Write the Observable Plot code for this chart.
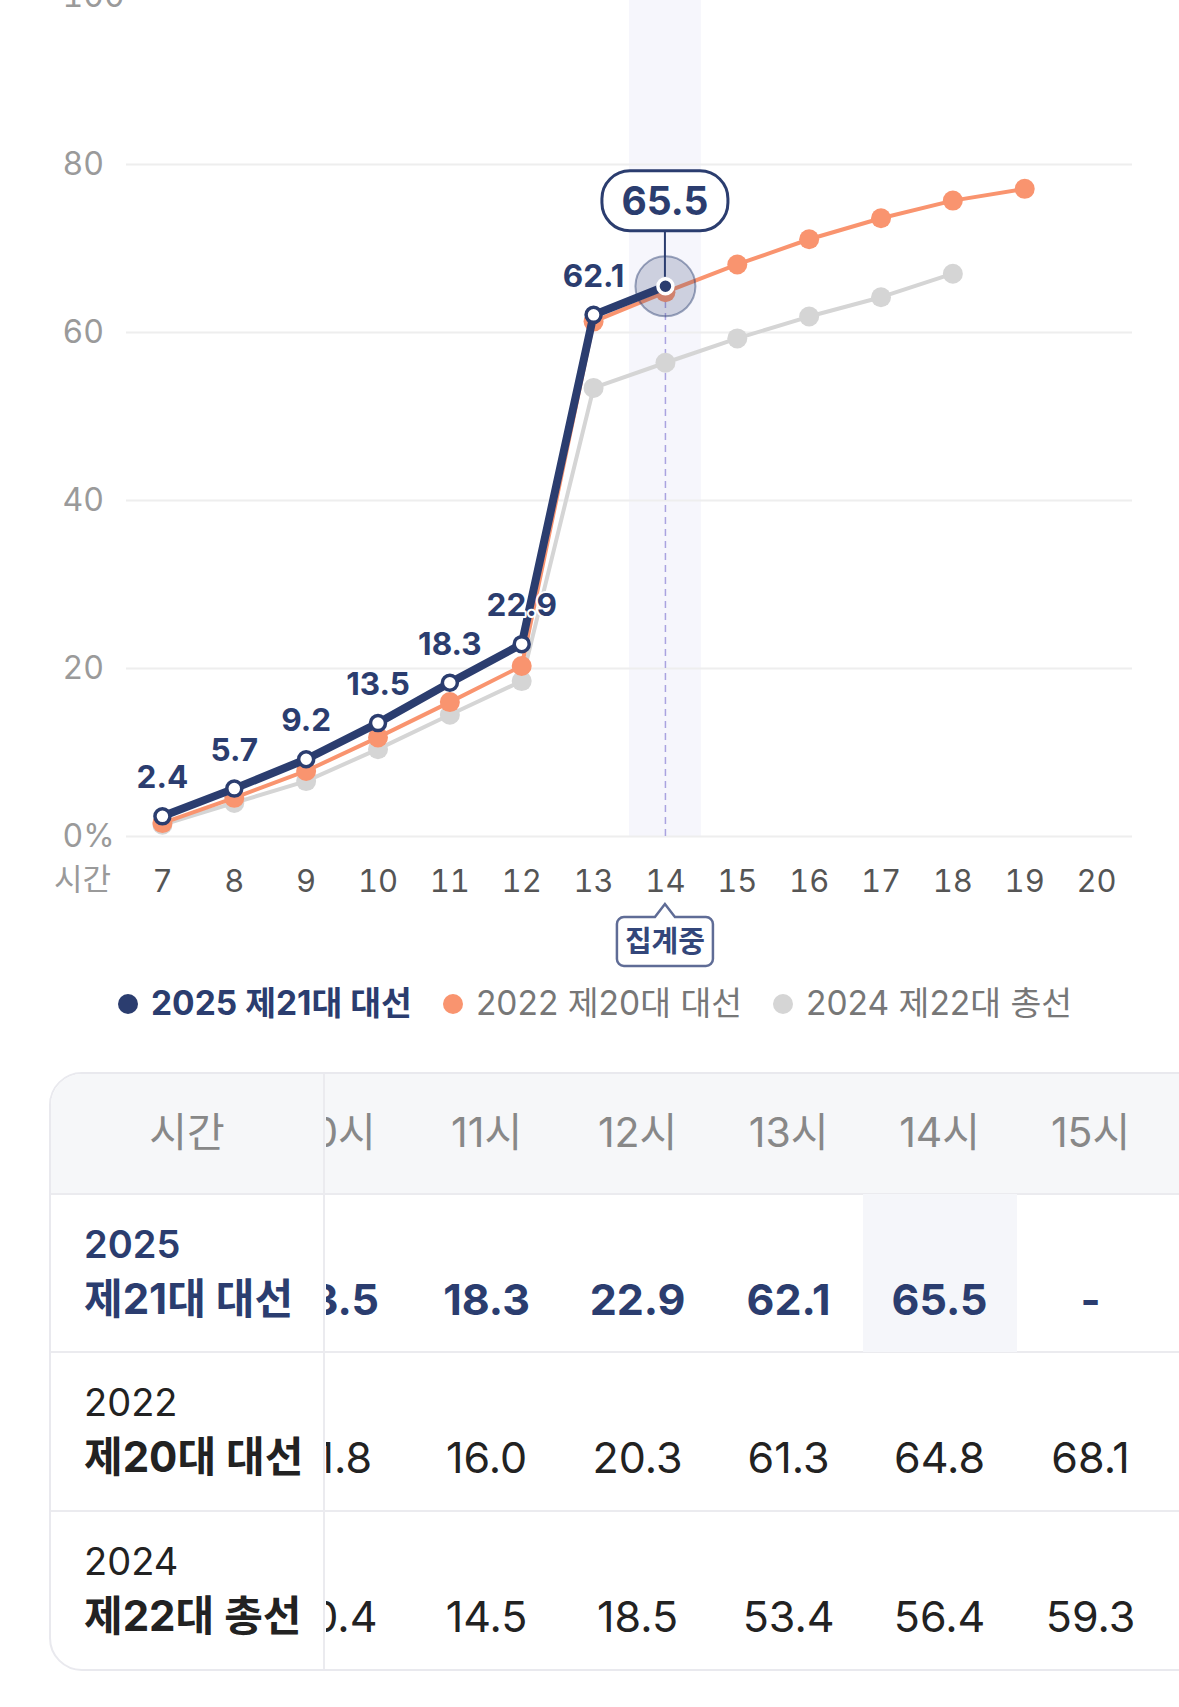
<!DOCTYPE html>
<html><head><meta charset="utf-8">
<script src="https://cdn.jsdelivr.net/npm/d3@7"></script>
<script src="https://cdn.jsdelivr.net/npm/@observablehq/plot@0.6"></script>
<style>
html,body{margin:0;padding:0;background:#fff;}
body{width:1179px;height:1707px;overflow:hidden;position:relative;font-family:Inter,"Noto Sans CJK KR",sans-serif;}
#chart{position:absolute;left:0;top:-40px;}
#legend{position:absolute;left:118px;top:975px;height:58px;display:flex;align-items:center;white-space:nowrap;}
.li{display:flex;align-items:center;margin-right:31px;font-size:33.5px;line-height:1;}
.li .dot{width:20px;height:20px;border-radius:50%;margin-right:13px;}
#table{position:absolute;left:49px;top:1072px;width:1260px;height:599px;box-sizing:border-box;border:2px solid #e9e9ee;border-radius:33px;overflow:hidden;background:#fff;}
.abs{position:absolute;line-height:1;white-space:nowrap;}
.c{transform:translate(-50%,-50%);}
.l{transform:translate(0,-50%);}
</style></head><body>
<div id="chart"></div>
<div id="legend"></div>
<div id="table"></div>
<script>
// ---- data ----
const hours = [7, 8, 9, 10, 11, 12, 13, 14, 15, 16, 17, 18, 19, 20];
const seriesNames = ["2025 제21대 대선", "2022 제20대 대선", "2024 제22대 총선"];
const v2025 = [2.4, 5.7, 9.2, 13.5, 18.3, 22.9, 62.1, 65.5];
const v2022 = [1.6, 4.6, 7.8, 11.8, 16.0, 20.3, 61.3, 64.8, 68.1, 71.1, 73.6, 75.7, 77.1];
const v2024 = [1.4, 4.0, 6.6, 10.4, 14.5, 18.5, 53.4, 56.4, 59.3, 61.9, 64.2, 67.0];
const yTicks = [0, 20, 40, 60, 80, 100];
const currentHour = 14;
const axisTitle = "시간";
const statusLabel = "집계중";
const hourSuffix = "시";
const tableHours = [7, 8, 9, 10, 11, 12, 13, 14, 15, 16, 17, 18, 19];

// ---- styles ----
const FONT = 'Inter, "Noto Sans CJK KR", sans-serif';
const navy = "#2b3d6f", orange = "#f9946f", gray = "#d5d5d5";

const toRows = vals => vals.map((v, i) => ({h: hours[i], v}));
const d2025 = toRows(v2025), d2022 = toRows(v2022), d2024 = toRows(v2024);
const past = d2025.filter(d => d.h !== currentHour);
const curr = d2025.filter(d => d.h === currentHour);

const callout = (index, scales) => {
  const cx = scales.x(curr[0].h), cy = scales.y(curr[0].v);
  const g = d3.create("svg:g");
  g.append("line").attr("x1", cx).attr("x2", cx).attr("y1", cy - 9).attr("y2", cy - 55)
    .attr("stroke", navy).attr("stroke-width", 2);
  g.append("rect").attr("x", cx - 63).attr("y", cy - 115).attr("width", 126).attr("height", 60)
    .attr("rx", 28).attr("fill", "white").attr("stroke", navy).attr("stroke-width", 3);
  g.append("text").attr("x", cx).attr("y", cy - 85).attr("dy", "0.36em").attr("text-anchor", "middle")
    .attr("font-size", 39).attr("font-weight", 700).attr("fill", navy).attr("font-family", FONT)
    .text(curr[0].v.toFixed(1));
  return g.node();
};

const badge = (index, scales) => {
  const cx = scales.x(currentHour), y0 = scales.y(0);
  const L = cx - 48, R = cx + 48, T = y0 + 81, B = y0 + 130, r = 7;
  const p = `M${L + r},${T} L${cx - 10},${T} L${cx},${y0 + 68} L${cx + 10},${T} L${R - r},${T} A${r},${r} 0 0 1 ${R},${T + r} L${R},${B - r} A${r},${r} 0 0 1 ${R - r},${B} L${L + r},${B} A${r},${r} 0 0 1 ${L},${B - r} L${L},${T + r} A${r},${r} 0 0 1 ${L + r},${T} Z`;
  const g = d3.create("svg:g");
  g.append("path").attr("d", p).attr("fill", "white").attr("stroke", "#5f6c96").attr("stroke-width", 2.5);
  g.append("text").attr("x", cx).attr("y", y0 + 106).attr("dy", "0.36em").attr("text-anchor", "middle")
    .attr("font-size", 29).attr("font-weight", 700).attr("fill", "#33467a").attr("font-family", FONT)
    .text(statusLabel);
  return g.node();
};

const plot = Plot.plot({
  width: 1179, height: 1015,
  marginLeft: 126, marginRight: 47, marginTop: 36, marginBottom: 139,
  x: {domain: [6.5, 20.5]},
  y: {domain: [0, 100]},
  style: {fontFamily: FONT, background: "transparent", overflow: "visible"},
  marks: [
    Plot.rect([currentHour], {x1: d => d - 0.5, x2: d => d + 0.5, y1: 0, y2: 100, fill: "#f6f6fc"}),
    Plot.ruleY(yTicks, {stroke: "#eeeeee", strokeWidth: 2}),
    Plot.axisY({ticks: yTicks, tickFormat: d => d === 0 ? "0%" : String(d), tickSize: 0, tickPadding: 64,
      textAnchor: "start", fontSize: 32, color: "#9a9a9a", label: null}),
    Plot.axisX({ticks: hours, tickSize: 0, tickPadding: 33, fontSize: 31, color: "#555555", label: null}),
    Plot.text([axisTitle], {text: d => d, frameAnchor: "bottom-left", dx: -44, dy: 44,
      textAnchor: "middle", lineAnchor: "middle", fontSize: 31, fill: "#9a9a9a"}),
    Plot.ruleX(curr, {x: "h", y1: 0, y2: "v", stroke: "#aaa3e0", strokeWidth: 1.5, strokeDasharray: "7,5"}),
    Plot.line(d2024, {x: "h", y: "v", stroke: gray, strokeWidth: 4}),
    Plot.dot(d2024, {x: "h", y: "v", r: 10, fill: gray}),
    Plot.line(d2022, {x: "h", y: "v", stroke: orange, strokeWidth: 4}),
    Plot.dot(d2022, {x: "h", y: "v", r: 10, fill: orange}),
    Plot.line(d2025, {x: "h", y: "v", stroke: navy, strokeWidth: 8, strokeLinejoin: "round"}),
    Plot.dot(past, {x: "h", y: "v", r: 7.5, fill: "white", stroke: navy, strokeWidth: 3.5}),
    Plot.text(past, {x: "h", y: "v", text: d => d.v.toFixed(1), dy: -38, fontSize: 31.5, fontWeight: 700,
      fill: navy, stroke: "white", strokeWidth: 4}),
    Plot.dot(curr, {x: "h", y: "v", r: 30, fill: navy, fillOpacity: 0.2, stroke: navy, strokeOpacity: 0.45, strokeWidth: 2}),
    Plot.dot(curr, {x: "h", y: "v", r: 7.5, fill: navy, stroke: "white", strokeWidth: 3.5}),
    callout,
    badge
  ]
});
document.getElementById("chart").appendChild(plot);

// ---- legend ----
const legendColors = [navy, orange, gray];
const legend = document.getElementById("legend");
seriesNames.forEach((s, i) => {
  const it = document.createElement("div");
  it.className = "li";
  it.innerHTML = `<span class="dot" style="background:${legendColors[i]}"></span><span style="color:${i === 0 ? navy : "#777"};font-weight:${i === 0 ? 700 : 400}">${s}</span>`;
  legend.appendChild(it);
});

// ---- table ----
const tbl = document.getElementById("table");
const allVals = [v2025, v2022, v2024];
const colW = 151, c11 = 435.6;
const colX = h => c11 + (h - 11) * colW;
const rowTop = [120, 278, 437], rowH = 158;
function add(parent, html, cls, x, y, style) {
  const e = document.createElement("div");
  e.className = "abs " + cls;
  e.style.left = x + "px"; e.style.top = y + "px";
  e.style.cssText += style || "";
  e.innerHTML = html;
  parent.appendChild(e);
  return e;
}
add(tbl, "", "", 0, 0, "width:100%;height:120px;background:#f6f7f9;");
[120, 278, 437].forEach(y => add(tbl, "", "", 0, y - 1, "width:100%;height:2px;background:#ebebef;"));
add(tbl, "", "", colX(currentHour) - 77, 120, `width:154px;height:${rowH}px;background:#f5f6fa;`);
const scroll = add(tbl, "", "", 275, 0, "width:1000px;height:100%;overflow:hidden;");
tableHours.forEach(h => {
  add(scroll, h + hourSuffix, "c", colX(h) - 275, 58, "font-size:41px;color:#888;");
  allVals.forEach((vals, r) => {
    const i = hours.indexOf(h);
    const txt = i < vals.length ? vals[i].toFixed(1) : "-";
    add(scroll, txt, "c", colX(h) - 275, rowTop[r] + 105,
      r === 0 ? `font-size:43px;font-weight:700;color:${navy};` : "font-size:43px;color:#222;");
  });
});
add(tbl, "", "", 272, 0, "width:2px;height:100%;background:#ebebef;");
add(tbl, axisTitle, "c", 136, 58, "font-size:41px;color:#888;");
seriesNames.forEach((s, r) => {
  const parts = s.split(" ");
  const year = parts[0], name = parts.slice(1).join(" ");
  const col = r === 0 ? navy : "#222";
  add(tbl, year, "l", 33, rowTop[r] + 50, `font-size:38px;font-weight:${r === 0 ? 600 : 400};color:${col};`);
  add(tbl, name, "l", 33, rowTop[r] + 105, `font-size:42px;font-weight:700;color:${col};`);
});
</script>
</body></html>
